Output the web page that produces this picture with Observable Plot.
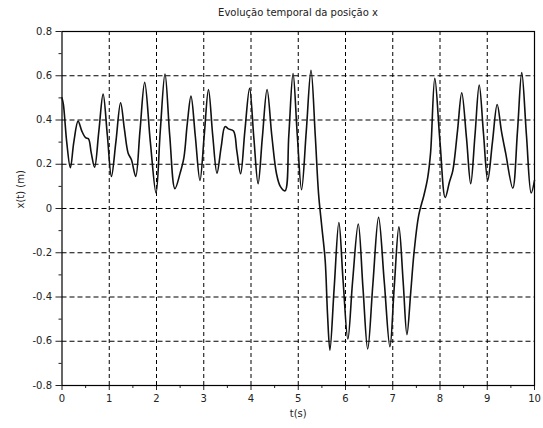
<!DOCTYPE html>
<html>
<head>
<meta charset="utf-8">
<script src="https://cdn.jsdelivr.net/npm/d3@7"></script>
<script src="https://cdn.jsdelivr.net/npm/@observablehq/plot@0.6"></script>
<style>
  body { margin: 0; background: #fff; }
  #title { height: 24px; font: 10px "DejaVu Sans", sans-serif; line-height: 26px; text-align: center; padding-left: 53px; color: #222; }
</style>
</head>
<body>
<div id="title">Evolução temporal da posição x</div>
<div id="chart"></div>
<script>
const titleText = "Evolução temporal da posição x";
const xLabel = "t(s)";
const yLabel = "x(t) (m)";
const xTicks = [0, 1, 2, 3, 4, 5, 6, 7, 8, 9, 10];
const xMinor = [0.5, 1.5, 2.5, 3.5, 4.5, 5.5, 6.5, 7.5, 8.5, 9.5];
const yTicks = [-0.8, -0.6, -0.4, -0.2, 0, 0.2, 0.4, 0.6, 0.8];
const yMinor = [-0.7, -0.5, -0.3, -0.1, 0.1, 0.3, 0.5, 0.7];

const tValues = [
  0.00, 0.03, 0.10, 0.177, 0.25, 0.34, 0.42, 0.50, 0.56, 0.62, 0.69, 0.78, 0.87, 0.96, 1.046,
  1.14, 1.24, 1.32, 1.40, 1.47, 1.56, 1.65, 1.75, 1.87, 1.99, 2.08, 2.18, 2.28, 2.39, 2.50,
  2.58, 2.65, 2.73, 2.82, 2.92, 3.01, 3.10, 3.19, 3.28, 3.37, 3.45, 3.52, 3.63, 3.70, 3.78,
  3.87, 3.97, 4.06, 4.15, 4.24, 4.34, 4.44, 4.54, 4.62, 4.72, 4.80, 4.89, 4.98, 5.07, 5.17,
  5.27, 5.36, 5.43, 5.50, 5.57, 5.62, 5.67, 5.76, 5.86, 5.95, 6.05, 6.15, 6.27, 6.37, 6.47,
  6.58, 6.70, 6.82, 6.94, 7.03, 7.13, 7.22, 7.30, 7.38, 7.45, 7.55, 7.66, 7.74, 7.80, 7.89,
  8.00, 8.11, 8.20, 8.27, 8.37, 8.46, 8.56, 8.65, 8.74, 8.83, 8.92, 9.01, 9.11, 9.21, 9.30,
  9.39, 9.54, 9.64, 9.73, 9.83, 9.93, 10.0
];
const xValues = [
  0.50, 0.47, 0.30, 0.184, 0.30, 0.395, 0.35, 0.32, 0.315, 0.25, 0.187, 0.35, 0.517, 0.33, 0.145,
  0.30, 0.478, 0.36, 0.25, 0.22, 0.145, 0.35, 0.57, 0.30, 0.07, 0.35, 0.608, 0.33, 0.09, 0.16,
  0.23, 0.38, 0.508, 0.33, 0.127, 0.33, 0.538, 0.33, 0.16, 0.28, 0.37, 0.36, 0.35, 0.26, 0.157,
  0.35, 0.543, 0.32, 0.112, 0.32, 0.538, 0.33, 0.157, 0.10, 0.08, 0.33, 0.61, 0.33, 0.085, 0.35,
  0.625, 0.33, 0.066, -0.085, -0.235, -0.48, -0.64, -0.36, -0.063, -0.33, -0.59, -0.33, -0.07, -0.36, -0.635,
  -0.34, -0.04, -0.33, -0.625, -0.36, -0.083, -0.33, -0.57, -0.38, -0.20, -0.03, 0.06, 0.14, 0.25, 0.588,
  0.30, 0.05, 0.12, 0.17, 0.35, 0.523, 0.32, 0.112, 0.33, 0.558, 0.34, 0.127, 0.30, 0.47, 0.35,
  0.25, 0.092, 0.35, 0.614, 0.33, 0.07, 0.127
];

const data = tValues.map((t, i) => ({t, x: xValues[i]}));
const fmtY = d => (Math.abs(d) < 1e-9 ? "0" : d.toFixed(1));

const chart = Plot.plot({
  width: 543,
  height: 404,
  marginLeft: 61.5,
  marginRight: 9,
  marginTop: 7,
  marginBottom: 43,
  style: {fontFamily: "DejaVu Sans, sans-serif", fontSize: "10px", color: "#222", background: "#fff"},
  x: {domain: [0, 10]},
  y: {domain: [-0.8, 0.8]},
  marks: [
    Plot.gridX(xTicks.slice(1, -1), {stroke: "black", strokeOpacity: 1, strokeWidth: 1, strokeDasharray: "4,3"}),
    Plot.gridY(yTicks.slice(1, -1), {stroke: "black", strokeOpacity: 1, strokeWidth: 1, strokeDasharray: "5,3"}),
    Plot.axisX(xMinor, {tickSize: 3, tickFormat: () => "", label: null}),
    Plot.axisY(yMinor, {tickSize: 3, tickFormat: () => "", label: null}),
    Plot.axisX(xTicks, {tickSize: 5, tickPadding: 4, label: null, tickFormat: d => String(d)}),
    Plot.axisY(yTicks, {tickSize: 6, tickPadding: 4, label: null, tickFormat: fmtY}),
    Plot.frame({stroke: "black", strokeWidth: 1.2}),
    Plot.line(data, {x: "t", y: "x", curve: "catmull-rom", stroke: "#111", strokeWidth: 1.6}),
    Plot.text([xLabel], {frameAnchor: "bottom", dy: 31, fontSize: 10}),
    Plot.text([yLabel], {frameAnchor: "left", dx: -41, rotate: -90, fontSize: 10})
  ]
});
document.getElementById("chart").appendChild(chart);
</script>
</body>
</html>
